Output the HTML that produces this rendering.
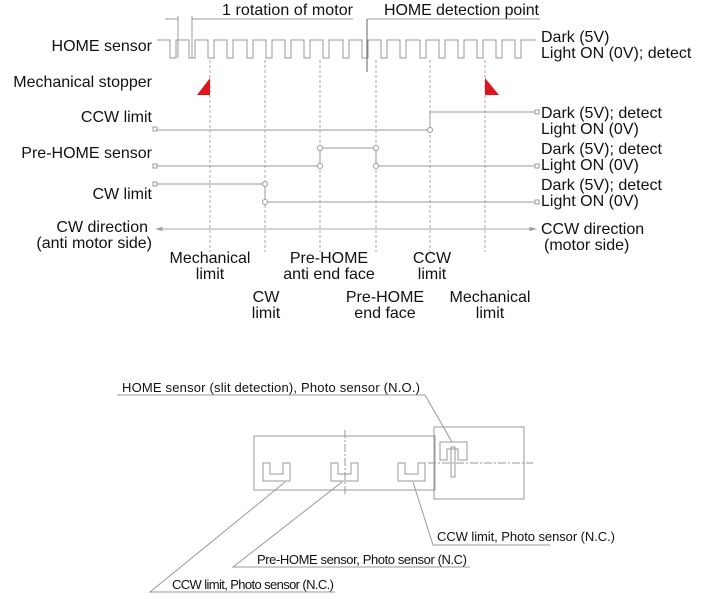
<!DOCTYPE html>
<html><head><meta charset="utf-8"><style>
html,body{margin:0;padding:0;background:#fff;}
svg{display:block;}
text{font-family:"Liberation Sans",sans-serif;fill:#111;}
.t{font-size:16px;}
.s{font-size:13px;}
</style></head><body>
<svg width="701" height="599" viewBox="0 0 701 599" xmlns="http://www.w3.org/2000/svg">
<g fill="none" stroke="#999" stroke-width="1">
<g stroke-dasharray="3,2" stroke="#aaa">
<line x1="210" y1="60" x2="210" y2="252"/>
<line x1="265" y1="60" x2="265" y2="252"/>
<line x1="320" y1="60" x2="320" y2="252"/>
<line x1="376" y1="60" x2="376" y2="252"/>
<line x1="430" y1="60" x2="430" y2="252"/>
<line x1="485" y1="60" x2="485" y2="252"/>
</g>
<path d="M157 40 H170 V58 H176 V40 H189 V58 H195 V40 H208 V58 H214 V40 H227 V58 H233 V40 H247 V58 H253 V40 H266 V58 H272 V40 H285 V58 H291 V40 H304 V58 H310 V40 H323 V58 H329 V40 H343 V58 H349 V40 H362 V58 H368 V40 H381 V58 H387 V40 H400 V58 H406 V40 H420 V58 H426 V40 H439 V58 H445 V40 H458 V58 H464 V40 H477 V58 H483 V40 H496 V58 H502 V40 H515 V58 H521 V40 H536"/>
<line x1="178" y1="16" x2="178" y2="58"/>
<line x1="192" y1="16" x2="192" y2="58"/>
<line x1="165" y1="19" x2="178" y2="19"/>
<line x1="192" y1="19" x2="353" y2="19"/>
<line x1="367" y1="19" x2="367" y2="72" stroke="#666"/>
<line x1="367" y1="19" x2="540" y2="19"/>
<path d="M157 130 H430 V112 H535"/>
<path d="M157 166 H320 V148 H376 V166 H535"/>
<path d="M157 184 H265 V202 H535"/>
<line x1="157" y1="229" x2="535" y2="229" stroke="#aaa"/>
<g fill="#fff" stroke="#999">
<rect x="153" y="127" width="4" height="4"/><rect x="535" y="110" width="4" height="4"/>
<circle cx="430" cy="130" r="2.5"/>
<rect x="153" y="164" width="4" height="4"/><rect x="535" y="164" width="4" height="4"/>
<circle cx="320" cy="148" r="2.5"/><circle cx="320" cy="166" r="2.5"/>
<circle cx="376" cy="148" r="2.5"/><circle cx="376" cy="166" r="2.5"/>
<rect x="153" y="182" width="4" height="4"/><rect x="535" y="200" width="4" height="4"/>
<circle cx="265" cy="184" r="2.5"/><circle cx="265" cy="202" r="2.5"/>
</g>
<path d="M157 229 l5 -1.5 v3z M535 229 l-5 -1.5 v3z" fill="#aaa"/>
<rect x="254" y="436" width="181" height="54"/>
<rect x="434" y="427" width="90" height="72"/>
<line x1="345" y1="430" x2="345" y2="496" stroke-dasharray="8,2,2,2"/>
<line x1="428" y1="463" x2="533" y2="463" stroke-dasharray="8,2,2,2"/>
<path d="M263 463 h7 v11 h13 v-11 h7 v18 h-27 z"/>
<path d="M331 463 h7 v11 h13 v-11 h7 v18 h-27 z"/>
<path d="M398 463 h7 v11 h13 v-11 h7 v18 h-27 z"/>
<path d="M440 442 h27 v18 h-9 v-11 h-11 v11 h-7 z"/>
<rect x="451" y="447" width="4" height="30"/>
<path d="M117 395 H425 L452 442"/>
<path d="M413 482 L433 545 H550"/>
<path d="M470 567 H233 L342 482"/>
<path d="M335 592 H150 L285 482"/>
</g>
<path d="M197 95 L210 78 V95 Z M485 78 L499 95 H485 Z" fill="#e0141e"/>
<g class="t">
<text x="152" y="51" text-anchor="end">HOME sensor</text>
<text x="152" y="87" text-anchor="end">Mechanical stopper</text>
<text x="152" y="122" text-anchor="end">CCW limit</text>
<text x="152" y="158" text-anchor="end">Pre-HOME sensor</text>
<text x="152" y="199" text-anchor="end">CW limit</text>
<text x="148" y="232" text-anchor="end">CW direction</text>
<text x="152" y="248" text-anchor="end">(anti motor side)</text>
<text x="222" y="15" textLength="131">1 rotation of motor</text>
<text x="384" y="15" textLength="155">HOME detection point</text>
<text x="541" y="42">Dark (5V)</text>
<text x="541" y="58">Light ON (0V); detect</text>
<text x="541" y="118">Dark (5V); detect</text>
<text x="541" y="134">Light ON (0V)</text>
<text x="541" y="154">Dark (5V); detect</text>
<text x="541" y="170">Light ON (0V)</text>
<text x="541" y="190">Dark (5V); detect</text>
<text x="541" y="206">Light ON (0V)</text>
<text x="541" y="234">CCW direction</text>
<text x="544" y="250">(motor side)</text>
<g text-anchor="middle">
<text x="210" y="263">Mechanical</text><text x="210" y="279">limit</text>
<text x="266" y="302">CW</text><text x="266" y="318">limit</text>
<text x="329" y="263">Pre-HOME</text><text x="329" y="279">anti end face</text>
<text x="385" y="302">Pre-HOME</text><text x="385" y="318">end face</text>
<text x="432" y="263">CCW</text><text x="432" y="279">limit</text>
<text x="490" y="302">Mechanical</text><text x="490" y="318">limit</text>
</g>
</g>
<g class="s">
<text x="122" y="392" textLength="298">HOME sensor (slit detection), Photo sensor (N.O.)</text>
<text x="437" y="541" textLength="178">CCW limit, Photo sensor (N.C.)</text>
<text x="257" y="564" textLength="210">Pre-HOME sensor, Photo sensor (N.C)</text>
<text x="172" y="589" textLength="162">CCW limit, Photo sensor (N.C.)</text>
</g>
</svg>
</body></html>
